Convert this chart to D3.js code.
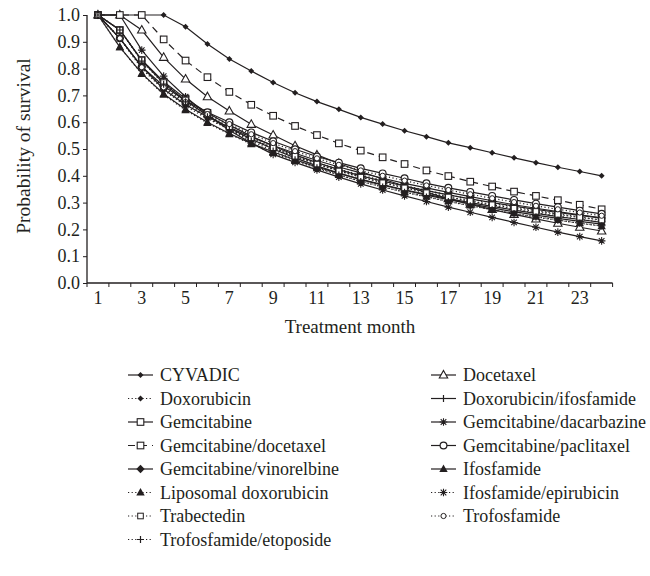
<!DOCTYPE html>
<html>
<head>
<meta charset="utf-8">
<script src="https://cdn.jsdelivr.net/npm/d3@7"></script>
<style>
  html, body { margin: 0; padding: 0; background: #fff; }
  svg { display: block; }
  text { font-family: "Liberation Serif", "Times New Roman", serif; fill: #231f20; }
</style>
</head>
<body>
<svg id="chart" width="650" height="576"></svg>
<script>
// ---------- DATA ----------
const months = [1,2,3,4,5,6,7,8,9,10,11,12,13,14,15,16,17,18,19,20,21,22,23,24];
const xTickLabels = [1,3,5,7,9,11,13,15,17,19,21,23];
const yTicks = [0,0.1,0.2,0.3,0.4,0.5,0.6,0.7,0.8,0.9,1.0];

const cyvadic      = [1,1,1,1,0.956,0.892,0.836,0.791,0.748,0.710,0.677,0.648,0.618,0.593,0.568,0.546,0.523,0.505,0.486,0.467,0.449,0.432,0.416,0.400];
const docetaxel    = [1,1,0.944,0.842,0.761,0.695,0.642,0.592,0.552,0.512,0.478,0.446,0.416,0.388,0.362,0.338,0.315,0.294,0.274,0.256,0.239,0.223,0.208,0.194];
const doxorubicin  = [1,0.913,0.800,0.720,0.660,0.613,0.573,0.537,0.505,0.476,0.449,0.425,0.403,0.383,0.364,0.346,0.329,0.313,0.298,0.284,0.270,0.258,0.246,0.235];
const doxIfos      = [1,0.944,0.830,0.745,0.680,0.625,0.578,0.537,0.500,0.467,0.437,0.410,0.386,0.365,0.346,0.328,0.311,0.295,0.280,0.266,0.253,0.241,0.230,0.220];
const gemcitabine  = [1,0.944,0.832,0.751,0.688,0.635,0.589,0.548,0.511,0.478,0.449,0.423,0.400,0.380,0.362,0.345,0.329,0.314,0.300,0.287,0.275,0.263,0.252,0.242];
const gemDac       = [1,1,0.869,0.772,0.695,0.627,0.570,0.522,0.480,0.450,0.422,0.395,0.370,0.347,0.325,0.304,0.283,0.264,0.245,0.226,0.208,0.190,0.173,0.157];
const gemDoc       = [1,1,1,0.909,0.830,0.768,0.713,0.665,0.624,0.586,0.552,0.521,0.494,0.469,0.444,0.420,0.399,0.378,0.360,0.341,0.325,0.309,0.292,0.275];
const gemPac       = [1,0.913,0.807,0.735,0.680,0.637,0.600,0.562,0.529,0.499,0.472,0.449,0.428,0.409,0.391,0.372,0.355,0.340,0.325,0.310,0.296,0.283,0.270,0.258];
const gemVin       = [1,0.913,0.807,0.723,0.665,0.620,0.580,0.545,0.513,0.484,0.457,0.433,0.411,0.391,0.372,0.355,0.338,0.322,0.307,0.292,0.279,0.266,0.254,0.243];
const ifosfamide   = [1,0.880,0.782,0.705,0.648,0.600,0.558,0.521,0.489,0.460,0.433,0.409,0.387,0.367,0.348,0.331,0.315,0.300,0.286,0.272,0.260,0.248,0.237,0.226];
const liposomalDox = [1,0.880,0.780,0.702,0.645,0.597,0.555,0.518,0.485,0.455,0.428,0.403,0.380,0.359,0.340,0.322,0.305,0.289,0.274,0.260,0.247,0.235,0.223,0.212];
const ifosEpi      = [1,0.913,0.805,0.728,0.668,0.617,0.574,0.536,0.502,0.471,0.443,0.418,0.395,0.375,0.356,0.338,0.321,0.305,0.290,0.276,0.263,0.250,0.238,0.227];
const trabectedin  = [1,0.944,0.832,0.748,0.683,0.628,0.582,0.541,0.505,0.473,0.444,0.418,0.395,0.374,0.355,0.337,0.321,0.306,0.292,0.279,0.267,0.256,0.245,0.235];
const trofosfamide = [1,0.913,0.805,0.730,0.675,0.630,0.593,0.555,0.522,0.492,0.465,0.441,0.420,0.400,0.382,0.364,0.347,0.331,0.316,0.302,0.288,0.275,0.263,0.251];
const trofEtop     = [1,0.944,0.828,0.742,0.676,0.620,0.572,0.530,0.493,0.460,0.430,0.403,0.379,0.358,0.339,0.321,0.304,0.288,0.273,0.259,0.246,0.234,0.223,0.213];

const seriesNames = ["CYVADIC","Docetaxel","Doxorubicin","Doxorubicin/ifosfamide","Gemcitabine","Gemcitabine/dacarbazine","Gemcitabine/docetaxel","Gemcitabine/paclitaxel","Gemcitabine/vinorelbine","Ifosfamide","Liposomal doxorubicin","Ifosfamide/epirubicin","Trabectedin","Trofosfamide","Trofosfamide/etoposide"];
const seriesValues = [cyvadic, docetaxel, doxorubicin, doxIfos, gemcitabine, gemDac, gemDoc, gemPac, gemVin, ifosfamide, liposomalDox, ifosEpi, trabectedin, trofosfamide, trofEtop];

// ---------- STYLES (not data) ----------
const styles = {
  "CYVADIC":                 {dash: null,  marker: "dotDiamond"},
  "Docetaxel":               {dash: null,  marker: "triOpen"},
  "Doxorubicin":             {dash: "1.2,2.4", marker: "dotDiamond"},
  "Doxorubicin/ifosfamide":  {dash: null,  marker: "plus"},
  "Gemcitabine":             {dash: null,  marker: "sqOpen"},
  "Gemcitabine/dacarbazine": {dash: null,  marker: "asterisk"},
  "Gemcitabine/docetaxel":   {dash: "7,5", marker: "sqOpen"},
  "Gemcitabine/paclitaxel":  {dash: null,  marker: "circOpen"},
  "Gemcitabine/vinorelbine": {dash: null,  marker: "diaFilled"},
  "Ifosfamide":              {dash: null,  marker: "triFilled"},
  "Liposomal doxorubicin":   {dash: "1.2,2.4", marker: "triFilled"},
  "Ifosfamide/epirubicin":   {dash: "1.2,2.4", marker: "asterisk"},
  "Trabectedin":             {dash: "1.2,2.4", marker: "sqOpenSmall"},
  "Trofosfamide":            {dash: "1.2,2.4", marker: "circOpenSmall"},
  "Trofosfamide/etoposide":  {dash: "1.2,2.4", marker: "plus"}
};

const series = seriesNames.map((n, i) => ({name: n, values: seriesValues[i].map((v, j) => ({m: months[j], v}))}));

// ---------- LAYOUT ----------
const svg = d3.select("#chart");
const ink = "#231f20";
const x = d3.scaleBand().domain(months).range([87, 612.6]).padding(0);
const y = d3.scaleLinear().domain([0, 1]).range([283, 15]);
const cx = m => x(m) + x.bandwidth() / 2;

// axes
const yAxis = d3.axisLeft(y).tickValues(yTicks).tickFormat(d3.format(".1f")).tickSize(4).tickPadding(3);
const gy = svg.append("g").attr("transform", "translate(87,0)").call(yAxis);
gy.selectAll("text").style("font-size", "18px").attr("fill", ink);

const xAxis = d3.axisBottom(x).tickValues(months).tickSize(0).tickPadding(8)
  .tickFormat(d => xTickLabels.includes(d) ? d : "");
const gx = svg.append("g").attr("transform", "translate(0,283)").call(xAxis);
gx.selectAll("text").style("font-size", "18px").attr("fill", ink);
// boundary ticks between categories
const boundaries = months.map(m => x(m)).concat([x(months[months.length-1]) + x.bandwidth()]);
gx.selectAll("line.bt").data(boundaries).enter().append("line")
  .attr("class", "bt").attr("x1", d => d).attr("x2", d => d).attr("y1", 0).attr("y2", 4)
  .attr("stroke", ink).attr("stroke-width", 1);
[gx, gy].forEach(g => {
  g.select(".domain").attr("stroke", ink).attr("stroke-width", 1.3);
  g.selectAll(".tick line").attr("stroke", ink);
});
gx.select(".domain").attr("d", `M87,0H612.6`);
gy.select(".domain").attr("d", `M0,283V15`);

// titles
svg.append("text").attr("transform", "translate(30,146) rotate(-90)")
  .attr("text-anchor", "middle").style("font-size", "19.5px").text("Probability of survival");
svg.append("text").attr("x", 350).attr("y", 333)
  .attr("text-anchor", "middle").style("font-size", "19px").text("Treatment month");

// marker drawer
function drawMarker(g, type, px, py) {
  const s = ink;
  switch (type) {
    case "dotDiamond":
      g.append("path").attr("d", `M${px},${py-3}L${px+3},${py}L${px},${py+3}L${px-3},${py}Z`).attr("fill", s); break;
    case "diaFilled":
      g.append("path").attr("d", `M${px},${py-4.2}L${px+4.2},${py}L${px},${py+4.2}L${px-4.2},${py}Z`).attr("fill", s); break;
    case "triOpen":
      g.append("path").attr("d", `M${px},${py-4.5}L${px+4.2},${py+3}L${px-4.2},${py+3}Z`).attr("fill", "#fff").attr("stroke", s).attr("stroke-width", 1.1); break;
    case "triFilled":
      g.append("path").attr("d", `M${px},${py-4.5}L${px+4.2},${py+3}L${px-4.2},${py+3}Z`).attr("fill", s); break;
    case "sqOpen":
      g.append("rect").attr("x", px-3.3).attr("y", py-3.3).attr("width", 6.6).attr("height", 6.6).attr("fill", "#fff").attr("stroke", s).attr("stroke-width", 1.1); break;
    case "sqOpenSmall":
      g.append("rect").attr("x", px-2.8).attr("y", py-2.8).attr("width", 5.6).attr("height", 5.6).attr("fill", "#fff").attr("stroke", s).attr("stroke-width", 1); break;
    case "circOpen":
      g.append("circle").attr("cx", px).attr("cy", py).attr("r", 3.4).attr("fill", "#fff").attr("stroke", s).attr("stroke-width", 1.2); break;
    case "circOpenSmall":
      g.append("circle").attr("cx", px).attr("cy", py).attr("r", 2.6).attr("fill", "#fff").attr("stroke", s).attr("stroke-width", 1); break;
    case "plus":
      g.append("path").attr("d", `M${px-3.5},${py}H${px+3.5}M${px},${py-3.5}V${py+3.5}`).attr("stroke", s).attr("stroke-width", 1.2).attr("fill", "none"); break;
    case "asterisk":
      g.append("path").attr("d", `M${px-3.8},${py}H${px+3.8}M${px},${py-3.8}V${py+3.8}M${px-2.8},${py-2.8}L${px+2.8},${py+2.8}M${px-2.8},${py+2.8}L${px+2.8},${py-2.8}`).attr("stroke", s).attr("stroke-width", 1.1).attr("fill", "none"); break;
  }
}

// lines
const line = d3.line().x(d => cx(d.m)).y(d => y(d.v));
const plot = svg.append("g");
series.forEach(s => {
  const st = styles[s.name];
  plot.append("path").datum(s.values).attr("d", line)
    .attr("fill", "none").attr("stroke", ink).attr("stroke-width", 1.2)
    .attr("stroke-dasharray", st.dash);
});
series.forEach(s => {
  const st = styles[s.name];
  const g = plot.append("g");
  s.values.forEach(d => drawMarker(g, st.marker, cx(d.m), y(d.v)));
});

// legend
const leg = svg.append("g");
series.forEach((s, i) => {
  const col = i % 2, row = Math.floor(i / 2);
  const lx = col === 0 ? 128 : 431;
  const ly = 375 + row * 23.5;
  const st = styles[s.name];
  const g = leg.append("g");
  g.append("line").attr("x1", lx).attr("x2", lx + 25).attr("y1", ly).attr("y2", ly)
    .attr("stroke", ink).attr("stroke-width", 1.2).attr("stroke-dasharray", st.dash);
  drawMarker(g, st.marker, lx + 12.5, ly);
  g.append("text").attr("x", lx + 32).attr("y", ly + 6).style("font-size", "18px").text(s.name);
});
</script>
</body>
</html>
